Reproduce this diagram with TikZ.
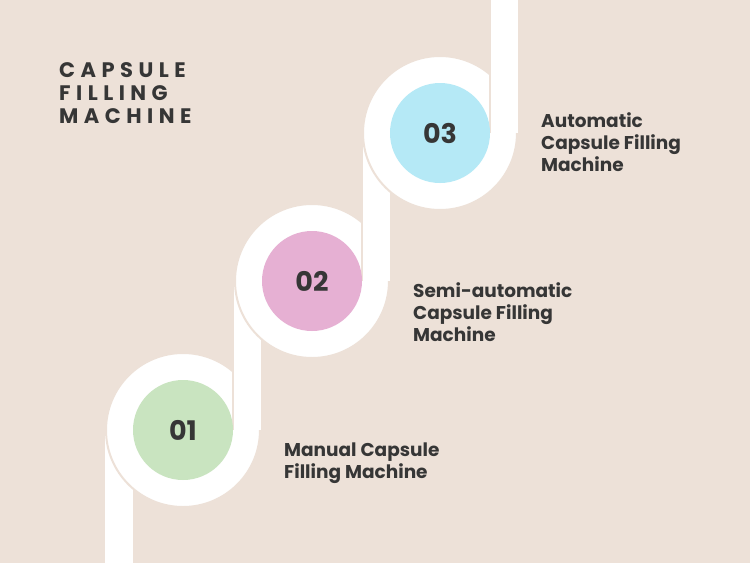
\documentclass[tikz,border=0pt]{standalone}
\usepackage{fontspec}
\setmainfont{Poppins}
\usetikzlibrary{calc}
\definecolor{bgsand}{HTML}{EDE1D8}
\definecolor{inkgrey}{HTML}{363636}
\definecolor{mint}{HTML}{C9E4C0}
\definecolor{orchid}{HTML}{E6B0D3}
\definecolor{skyblue}{HTML}{B5E9F6}
\tikzset{
    ring/.style = {circle, fill=white, draw=bgsand, line width=2pt,
        minimum size=154pt, inner sep=0pt},
    dot/.style = {circle, minimum size=100pt, inner sep=0pt, text=inkgrey,
        font=\fontsize{27}{27}\selectfont\bfseries},
    stem/.style = {draw=white, line width=28pt},
    seam/.style = {draw=bgsand, line width=2pt},
    label/.style = {anchor=base west, align=left, inner sep=0pt, text=inkgrey,
        font=\fontsize{18.5}{22}\selectfont\bfseries},
    heading/.style = {anchor=base west, align=left, inner sep=0pt, text=inkgrey,
        font=\fontsize{21}{23}\selectfont\bfseries\addfontfeatures{LetterSpace=26}}
}

\begin{document}
\begin{tikzpicture}[x=1pt, y=-1pt]
    \fill[bgsand] (0,0) rectangle (750,563);
    \useasboundingbox (0,0) rectangle (750,563);
    % centres of the three steps
    \coordinate (c1) at (183,430);
    \coordinate (c2) at (312,281);
    \coordinate (c3) at (440,133);
    \coordinate (bottom) at (119,563);
    \coordinate (top) at (504,0);
    \draw[stem] (bottom) -- (bottom |- c1);
    \foreach \i/\t in {1/c2, 2/c3, 3/top}{
        \node[ring] (ring\i) at (c\i) {};
        \draw[stem] ([xshift=64pt]c\i) -- ([xshift=64pt]c\i |- \t);
        \draw[seam] ([xshift=50pt]c\i) -- ([xshift=50pt]c\i |- \t);
    }
    \foreach \i/\col in {1/mint, 2/orchid, 3/skyblue}
        \node[dot, fill=\col] (dot\i) at (c\i) {0\i};
    % anchors sit on the last line
    \node[heading] (title) at (59,123) {CAPSULE\\FILLING\\MACHINE};
    \node[label] (lbl1) at ($(c1)+(101,48)$) {Manual Capsule\\Filling Machine};
    \node[label] (lbl2) at ($(c2)+(101,60)$) {Semi-automatic\\Capsule Filling\\Machine};
    \node[label] (lbl3) at ($(c3)+(101,38)$) {Automatic\\Capsule Filling\\Machine};
\end{tikzpicture}
\end{document}
